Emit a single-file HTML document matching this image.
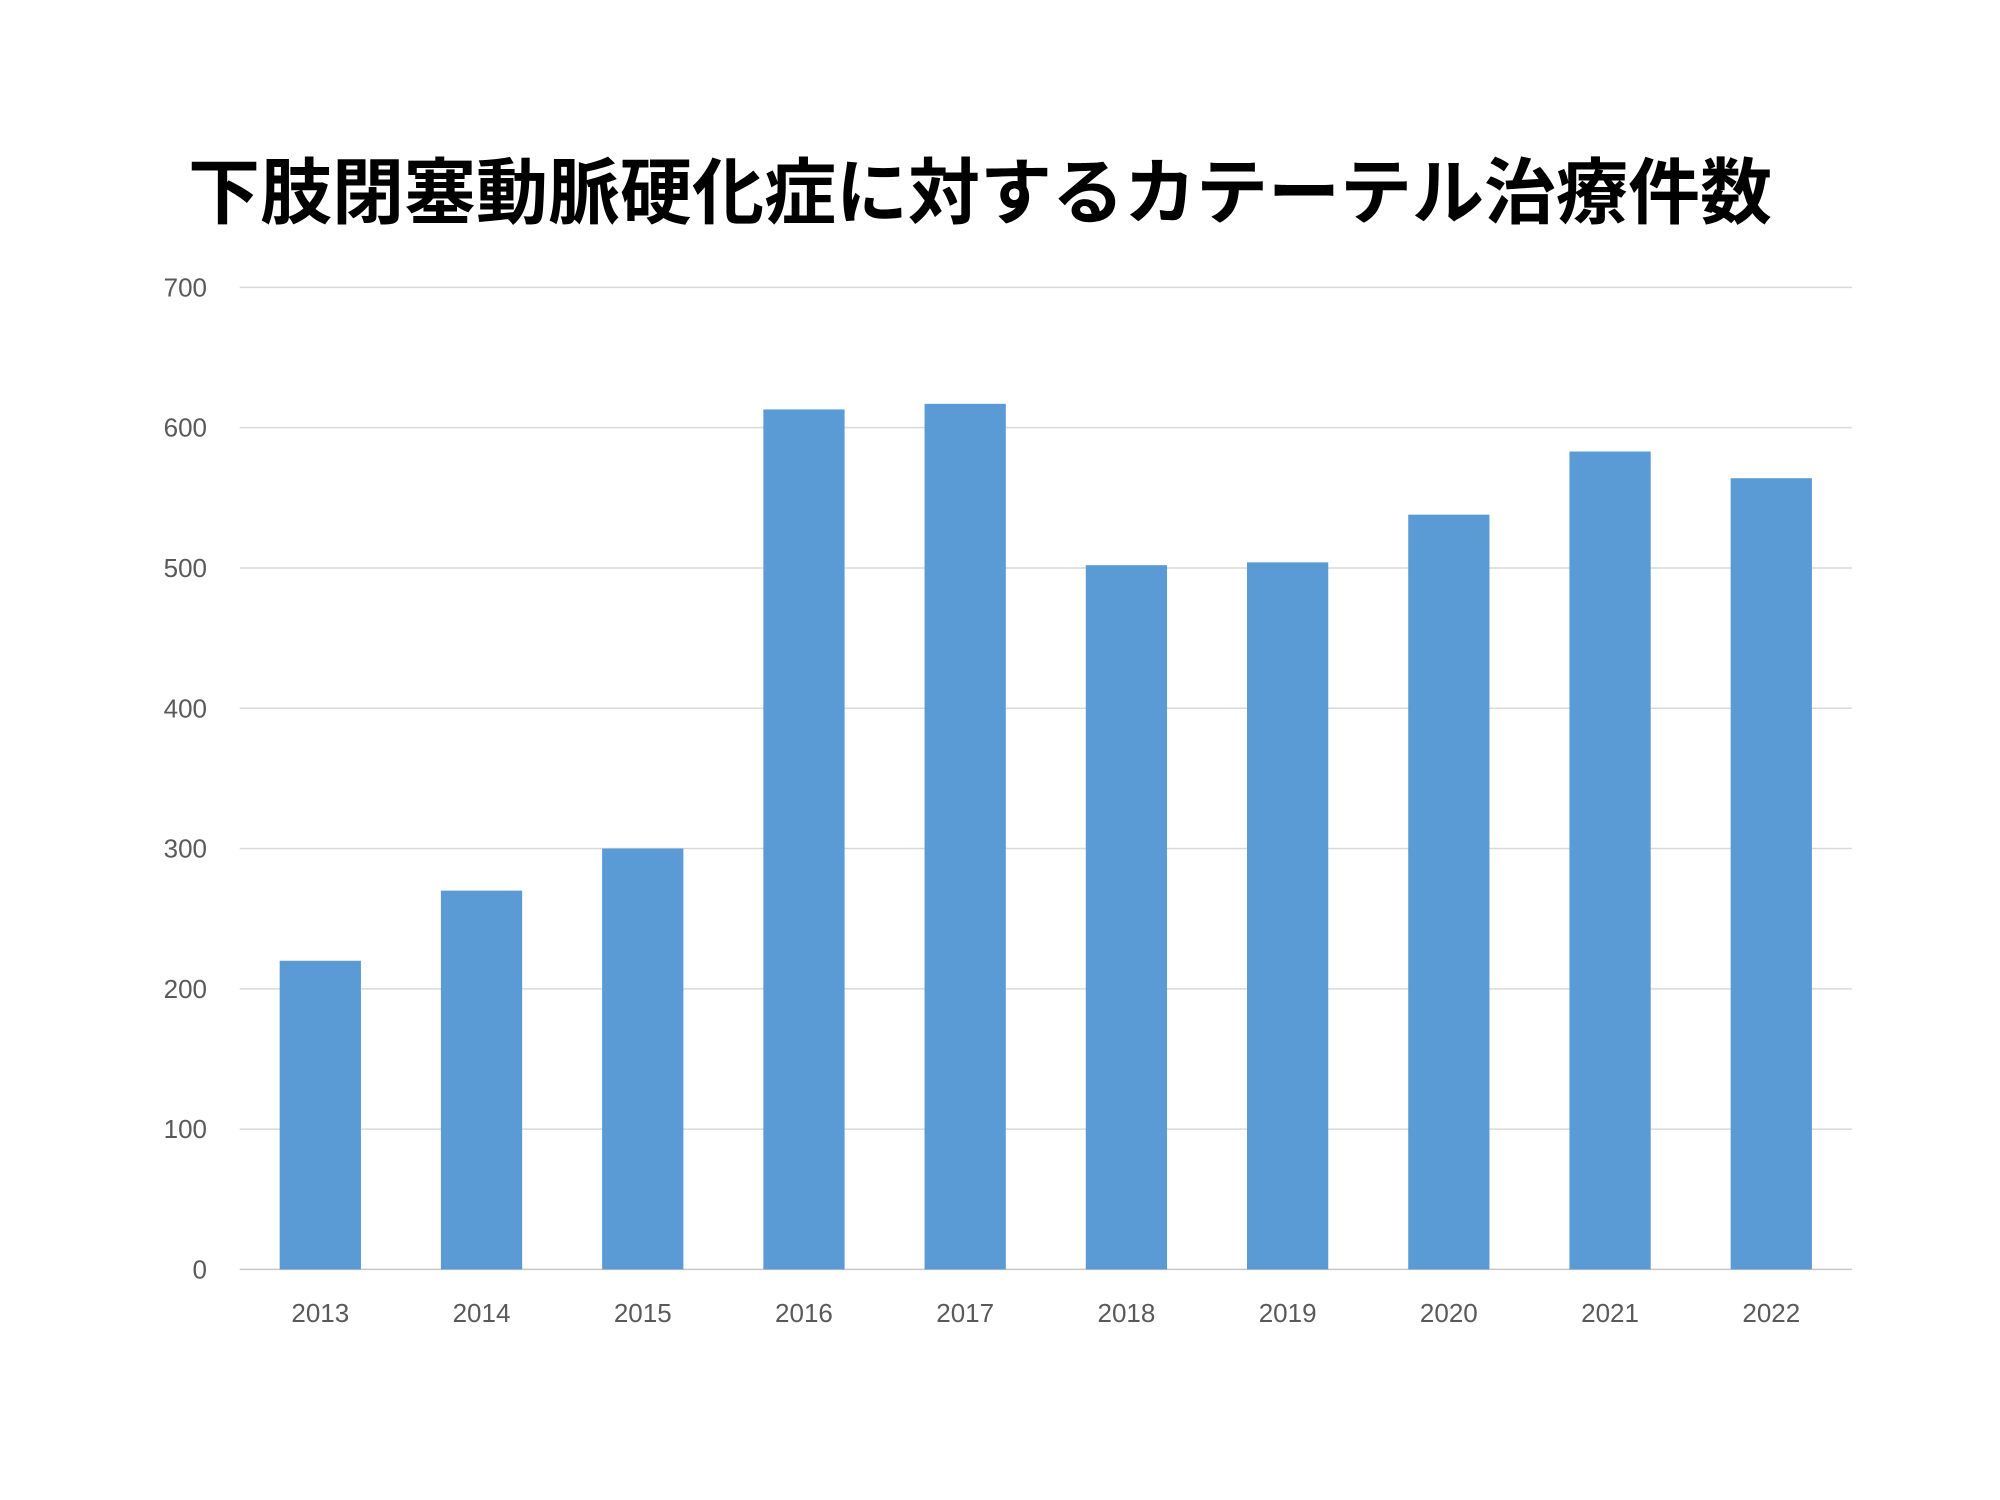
<!DOCTYPE html>
<html><head><meta charset="utf-8"><style>
html,body{margin:0;padding:0;background:#fff;}
svg{display:block;}
</style></head><body>
<svg id="chart" width="2000" height="1500" viewBox="0 0 2000 1500">
<text x="980" y="218" text-anchor="middle" font-family="'Liberation Sans','Noto Sans CJK JP',sans-serif" font-weight="bold" font-size="72" fill="#000">下肢閉塞動脈硬化症に対するカテーテル治療件数</text>
<g id="grid"></g>
<g id="bars"></g>
<g id="yticks"></g>
<g id="xticks"></g>
</svg>
<script>
const categories = ["2013","2014","2015","2016","2017","2018","2019","2020","2021","2022"];
const values = [220,270,300,613,617,502,504,538,583,564];
const yTicks = [0,100,200,300,400,500,600,700];
const NS="http://www.w3.org/2000/svg";
const x0=239.7,x1=1851.9,yBase=1269.4,yTop=287.4,yMax=700;
const band=(x1-x0)/categories.length, barW=band*0.504;
function y(v){return yBase-(v/yMax)*(yBase-yTop);}
function xc(i){return x0+band*(i+0.5);}
function mk(tag,attrs,parent){const e=document.createElementNS(NS,tag);for(const k in attrs)e.setAttribute(k,attrs[k]);parent.appendChild(e);return e;}
const grid=document.getElementById('grid'),bars=document.getElementById('bars'),yt=document.getElementById('yticks'),xt=document.getElementById('xticks');
const font="'Liberation Sans','Noto Sans CJK JP',sans-serif";
yTicks.forEach(t=>{
  const l=mk('line',{x1:x0,x2:x1,y1:y(t),y2:y(t),stroke:t===0?'#c8c8c8':'#d9d9d9','stroke-width':1.5},grid);
  
  
  const tx=mk('text',{x:207,y:y(t)+9,'text-anchor':'end','font-family':font,'font-size':26,fill:'#595959'},yt);
  tx.textContent=t;
  
  
});
categories.forEach((c,i)=>{
  const r=mk('rect',{x:xc(i)-barW/2,y:y(values[i]),width:barW,height:yBase-y(values[i]),fill:'#5b9bd5'},bars);
  
  
  const tx=mk('text',{x:xc(i),y:1322,'text-anchor':'middle','font-family':font,'font-size':26,fill:'#595959'},xt);
  tx.textContent=c;
  
  
});
</script>
</body></html>
